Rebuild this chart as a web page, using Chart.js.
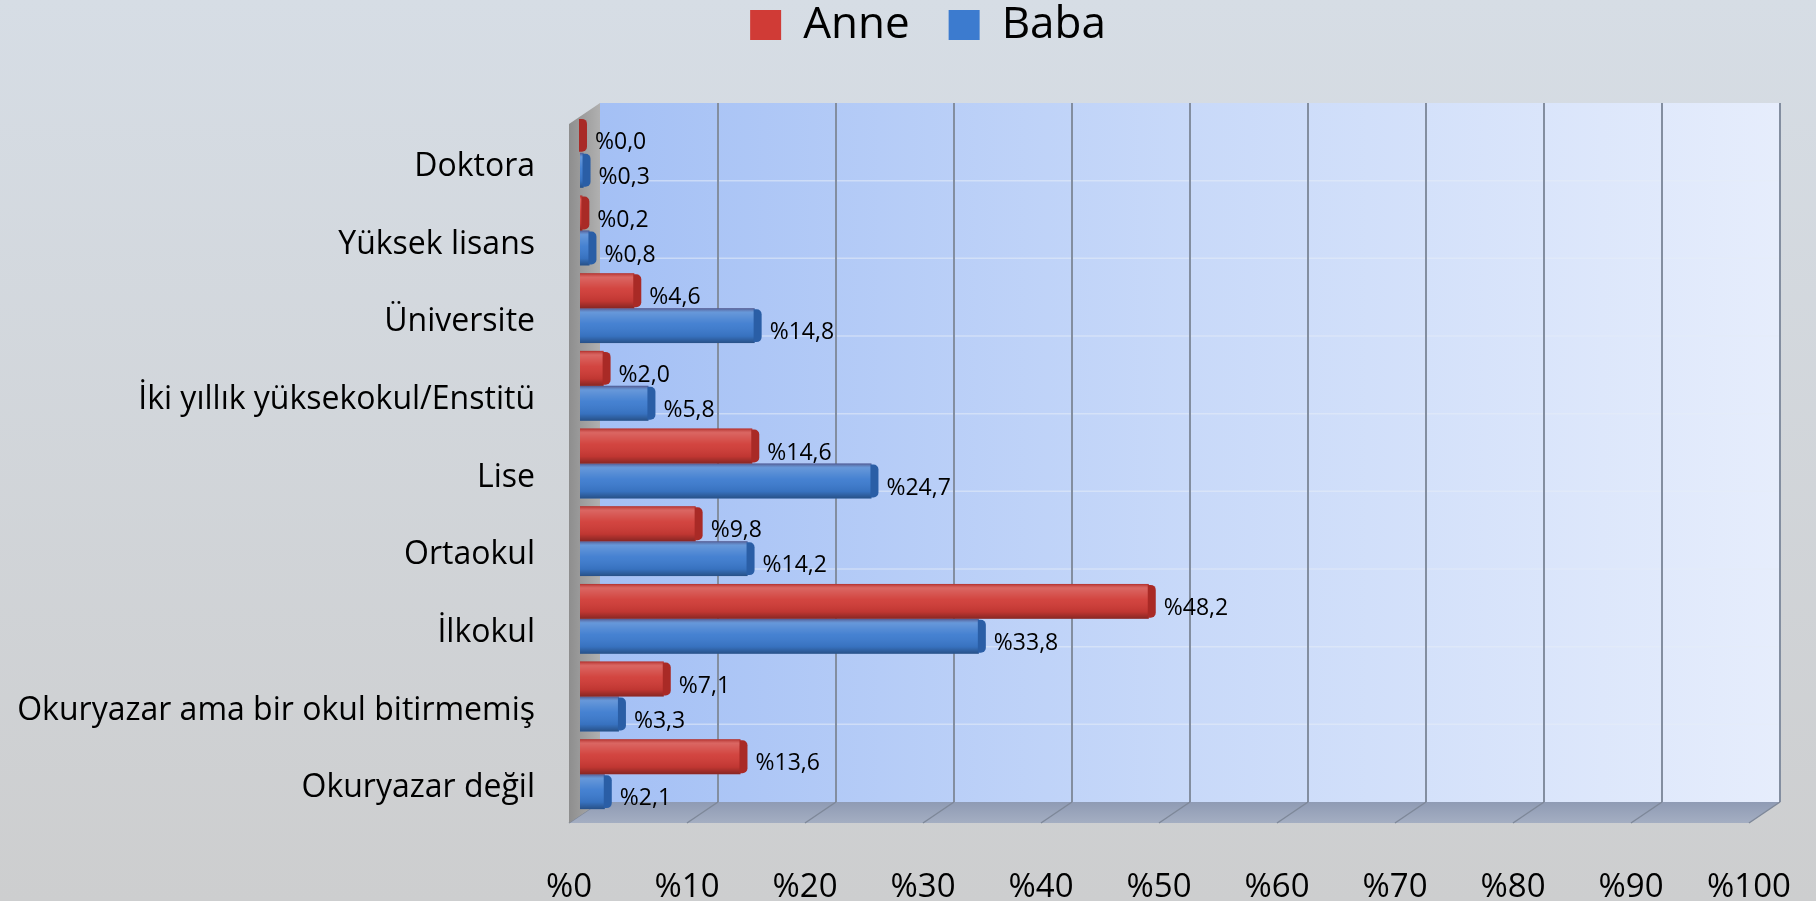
<!DOCTYPE html>
<html><head><meta charset="utf-8">
<script src="https://cdn.jsdelivr.net/npm/chart.js@4.4.1/dist/chart.umd.min.js"></script>
<style>html,body{margin:0;padding:0;overflow:hidden;background:#d2d6db}</style>
</head><body>
<canvas id="c" width="1816" height="901" style="display:block;width:1816px;height:901px"></canvas>
<script>
const categories = ['Doktora', 'Yüksek lisans', 'Üniversite', 'İki yıllık yüksekokul/Enstitü', 'Lise', 'Ortaokul', 'İlkokul', 'Okuryazar ama bir okul bitirmemiş', 'Okuryazar değil'];
const seriesNames = ['Anne', 'Baba'];
const anneValues = [0.0, 0.2, 4.6, 2.0, 14.6, 9.8, 48.2, 7.1, 13.6];
const babaValues = [0.3, 0.8, 14.8, 5.8, 24.7, 14.2, 33.8, 3.3, 2.1];
const xTickValues = [0, 10, 20, 30, 40, 50, 60, 70, 80, 90, 100];

const FONT = "'Open Sans', 'DejaVu Sans', sans-serif";
const BACK = {dx: 20, dy: -11};
const FRONT = {dx: -11, dy: 10};

function fmt(v) { return '%' + v.toFixed(1).replace('.', ','); }

const wallsPlugin = {
  id: 'walls',
  beforeDraw(chart) {
    const ctx = chart.ctx, ca = chart.chartArea;
    const xs = chart.scales.x, ys = chart.scales.y;
    ctx.save();
    let g = ctx.createLinearGradient(0, 0, 0, chart.height);
    g.addColorStop(0, '#d6dde5');
    g.addColorStop(1, '#cdcecf');
    ctx.fillStyle = g;
    ctx.fillRect(0, 0, chart.width, chart.height);

    const bx0 = xs.getPixelForValue(0) + BACK.dx, bx1 = xs.getPixelForValue(100) + BACK.dx;
    const by0 = ca.top + BACK.dy, by1 = ca.bottom + BACK.dy;
    const fx0 = xs.getPixelForValue(0) + FRONT.dx, fx1 = xs.getPixelForValue(100) + FRONT.dx;
    const fy0 = ca.top + FRONT.dy, fy1 = ca.bottom + FRONT.dy;

    g = ctx.createLinearGradient(bx0, 0, bx1, 0);
    g.addColorStop(0, '#a4c0f5');
    g.addColorStop(0.5, '#c8d9f9');
    g.addColorStop(1, '#e6edfc');
    ctx.fillStyle = g;
    ctx.fillRect(bx0, by0, bx1 - bx0, by1 - by0);

    ctx.strokeStyle = 'rgba(230,236,248,0.55)';
    ctx.lineWidth = 1.5;
    for (let i = 1; i < categories.length; i++) {
      const y = (ys.getPixelForValue(i - 1) + ys.getPixelForValue(i)) / 2 + BACK.dy;
      ctx.beginPath(); ctx.moveTo(bx0, y); ctx.lineTo(bx1, y); ctx.stroke();
    }

    ctx.strokeStyle = '#838ea0';
    ctx.lineWidth = 2;
    xTickValues.forEach(v => {
      if (v === 0) return;
      const x = xs.getPixelForValue(v) + BACK.dx;
      ctx.beginPath(); ctx.moveTo(x, by0); ctx.lineTo(x, by1); ctx.stroke();
    });

    g = ctx.createLinearGradient(0, by1, 0, fy1);
    g.addColorStop(0, '#8f9bb4');
    g.addColorStop(1, '#a4aec2');
    ctx.fillStyle = g;
    ctx.beginPath();
    ctx.moveTo(bx0, by1); ctx.lineTo(bx1, by1); ctx.lineTo(fx1, fy1); ctx.lineTo(fx0, fy1); ctx.closePath();
    ctx.fill();
    ctx.strokeStyle = '#7e8899';
    ctx.lineWidth = 1.5;
    xTickValues.forEach(v => {
      const x = xs.getPixelForValue(v);
      ctx.beginPath(); ctx.moveTo(x + BACK.dx, by1); ctx.lineTo(x + FRONT.dx, fy1); ctx.stroke();
    });

    g = ctx.createLinearGradient(fx0, 0, bx0, 0);
    g.addColorStop(0, '#8e8e8e');
    g.addColorStop(1, '#b0b0b0');
    ctx.fillStyle = g;
    ctx.beginPath();
    ctx.moveTo(fx0, fy0); ctx.lineTo(bx0, by0); ctx.lineTo(bx0, by1); ctx.lineTo(fx0, fy1); ctx.closePath();
    ctx.fill();
    ctx.restore();
  },
  afterDatasetsDraw(chart) {
    const ctx = chart.ctx;
    const capColors = ['#a92a26', '#2a5ea6'];
    ctx.save();
    chart.data.datasets.forEach((ds, di) => {
      const meta = chart.getDatasetMeta(di);
      meta.data.forEach((bar, i) => {
        const p = bar.getProps(['x', 'y', 'base', 'height'], true);
        const top = p.y - p.height / 2, bot = p.y + p.height / 2;
        const g = ctx.createLinearGradient(0, top, 0, bot);
        g.addColorStop(0, 'rgba(120,20,20,0.35)');
        g.addColorStop(0.12, 'rgba(255,255,255,0.22)');
        g.addColorStop(0.45, 'rgba(255,255,255,0.05)');
        g.addColorStop(0.8, 'rgba(0,0,0,0.08)');
        g.addColorStop(1, 'rgba(0,0,0,0.35)');
        ctx.fillStyle = g;
        ctx.fillRect(p.base, top, p.x - p.base, p.height);
        ctx.fillStyle = capColors[di];
        ctx.beginPath();
        ctx.roundRect(p.x - 1, top + 1, 8, p.height - 2, [0, 5, 5, 0]);
        ctx.fill();
        ctx.fillStyle = '#000';
        ctx.font = '23px ' + FONT;
        ctx.textAlign = 'left';
        ctx.textBaseline = 'middle';
        ctx.fillText(fmt(ds.data[i]), p.x + 15, p.y + 7);
      });
    });
    ctx.restore();
  }
};

new Chart(document.getElementById('c'), {
  type: 'bar',
  data: {
    labels: categories,
    datasets: [
      {label: seriesNames[0], data: anneValues, backgroundColor: '#d03b36', borderWidth: 0},
      {label: seriesNames[1], data: babaValues, backgroundColor: '#3c7bcf', borderWidth: 0}
    ]
  },
  options: {
    indexAxis: 'y',
    responsive: false,
    devicePixelRatio: 1,
    animation: false,
    layout: {padding: {left: 0, right: -40, top: -36, bottom: 0}},
    datasets: {bar: {barPercentage: 1, categoryPercentage: 0.9}},
    plugins: {
      legend: {
        position: 'top',
        labels: {boxWidth: 31, boxHeight: 30, padding: 39, color: '#000', font: {family: FONT, size: 44}}
      },
      tooltip: {enabled: false}
    },
    scales: {
      x: {
        type: 'linear', position: 'bottom', min: 0, max: 100,
        afterBuildTicks(s) { s.ticks = xTickValues.map(v => ({value: v})); },
        afterFit(s) { s.height = 88; s.paddingLeft = 0; s.paddingRight = 0; },
        grid: {display: false, drawTicks: false},
        border: {display: false},
        ticks: {callback: v => '%' + v, color: '#000', font: {family: FONT, size: 33}, padding: 55, labelOffset: FRONT.dx, maxRotation: 0, autoSkip: false}
      },
      y: {
        type: 'category', position: 'left',
        afterFit(s) { s.width = 580; s.paddingTop = 0; s.paddingBottom = 0; },
        grid: {display: false, drawTicks: false},
        border: {display: false},
        ticks: {color: '#000', font: {family: FONT, size: 32}, padding: 45, labelOffset: 14, autoSkip: false}
      },
      xTop: {
        type: 'linear', position: 'top', display: true,
        afterFit(s) { s.height = 57; s.paddingLeft = 0; s.paddingRight = 0; },
        grid: {display: false, drawTicks: false}, border: {display: false}, ticks: {display: false}
      },
      yRight: {
        type: 'linear', position: 'right', display: true,
        afterFit(s) { s.width = 96; s.paddingTop = 0; s.paddingBottom = 0; },
        grid: {display: false, drawTicks: false}, border: {display: false}, ticks: {display: false}
      }
    }
  },
  plugins: [wallsPlugin]
});
</script>
</body></html>
